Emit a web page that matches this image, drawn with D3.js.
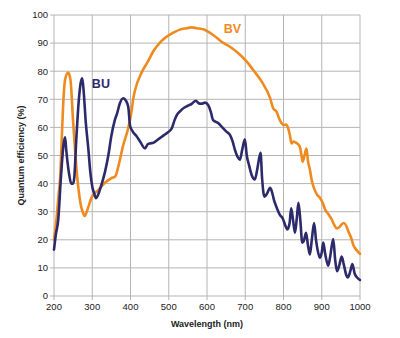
<!DOCTYPE html>
<html>
<head>
<meta charset="utf-8">
<script src="https://cdn.jsdelivr.net/npm/d3@7"></script>
<style>
  html, body { margin: 0; padding: 0; background: #fff; }
  svg { display: block; font-family: "Liberation Sans", Arial, Helvetica, sans-serif; }
</style>
</head>
<body>
<svg id="chart" width="400" height="338"></svg>
<script>
// ---- data ----
const xTicks = [200, 300, 400, 500, 600, 700, 800, 900, 1000];
const yTicks = [0, 10, 20, 30, 40, 50, 60, 70, 80, 90, 100];

const buWavelength = [200,205,211,218,225,229,232,235,240,245,250,253,258,265,270,274,278,283,290,295,300,305,310,318,325,333,342,350,359,365,372,381,388,394,399,406,415,425,438,445,451,460,470,480,490,500,508,515,521,530,540,550,560,571,578,585,595,603,610,616,630,640,650,660,667,673,680,686,692,699,704,710,717,725,731,735,740,744,750,757,765,770,775,782,790,798,805,810,816,820,825,830,835,839,844,849,853,859,864,869,874,880,885,889,895,900,904,909,917,922,930,935,940,946,952,958,964,968,975,980,986,993,1000];
const buQE = [16.5,22,27,42,54,56.5,52,48,43,40,40,42,55,70,76,77.5,72,62,52,44,39,36.5,34.8,37,40,44,50,57,62.6,65,68.5,70.4,69.5,67.4,60.5,58.5,57,55,52.5,54,54.3,54.5,55.5,56.5,57.5,58.5,59.7,62.5,64.4,65.8,67,67.7,68.4,69.5,68.6,68.4,68.8,68,65.5,62.6,61.5,60,58.6,57.3,55,52,49.5,48.5,52,55.8,50,46.5,43,41.5,44.8,48,51,42,35.3,36.5,38.5,37,34.2,31.5,29,27.6,25,23.7,26,31.2,27,22.5,28,33.2,27,19,19.5,22.5,18,14.8,20,26,20,16.5,13.6,15.5,19,15,10.8,14,20.3,13,8.8,11,14,11,7.5,6.6,9,11.4,8,6.5,5.7];

const bvWavelength = [200,207,212,216,220,224,229,237,243,250,259,268,277,280,290,298,316,333,351,360,368,381,394,403,407,412,429,446,460,477,486,503,516,529,547,560,573,590,616,638,660,682,704,721,743,765,773,782,789,795,800,806,812,817,821,826,832,838,843,847,850,855,860,864,869,874,880,888,895,903,908,917,925,932,939,946,952,958,964,970,976,983,990,1000];
const bvQE = [20,28,36,42,55,68,77,79.5,77,62,45,34,29.2,28.5,31.8,35,37.7,40.3,42,42.5,46,53.7,59.7,66,70,73.3,79.5,83.6,87.2,90.2,91.4,93,94,94.8,95.3,95.6,95.3,94.9,92.9,90.5,88.7,86.4,83.4,80.4,76.3,70.4,66.8,65.5,63,61.5,60.8,61,59.8,57,54.3,55,54.6,54,53,50,47.8,50,52.5,48,45,41,38.3,36,35,33,31,29.2,27.5,25.5,24,24.5,25.5,26,25,22.8,21,18,16.5,15];

const seriesNames = ["BU", "BV"];
const seriesColors = ["#2c2a6b", "#ef8a1f"];

// ---- layout ----
const svg = d3.select("#chart");
const x = d3.scaleLinear().domain([200, 1000]).range([54, 360]);
const y = d3.scaleLinear().domain([0, 100]).range([296, 15]);

// grid
svg.append("g").selectAll("line").data(xTicks).join("line")
  .attr("x1", d => x(d)).attr("x2", d => x(d))
  .attr("y1", y(100)).attr("y2", y(0) + 4)
  .attr("stroke", "#b4b4b4").attr("stroke-width", 1);
svg.append("g").selectAll("line").data(yTicks).join("line")
  .attr("x1", x(200) - 4).attr("x2", x(1000))
  .attr("y1", d => y(d)).attr("y2", d => y(d))
  .attr("stroke", "#b4b4b4").attr("stroke-width", 1);

// tick labels
svg.append("g").selectAll("text").data(yTicks).join("text")
  .attr("x", x(200) - 6).attr("y", d => y(d))
  .attr("dy", "0.35em").attr("text-anchor", "end")
  .attr("font-size", 9.5).attr("fill", "#222")
  .text(d => d);
svg.append("g").selectAll("text").data(xTicks).join("text")
  .attr("x", d => x(d)).attr("y", y(0) + 11)
  .attr("dy", "0.35em").attr("text-anchor", "middle")
  .attr("font-size", 9.5).attr("fill", "#222")
  .text(d => d);

// axis titles
svg.append("text")
  .attr("x", (x(200) + x(1000)) / 2).attr("y", 324).attr("dy", "0.35em")
  .attr("text-anchor", "middle").attr("font-size", 9).attr("font-weight", "bold")
  .attr("fill", "#222").text("Wavelength (nm)");
svg.append("text")
  .attr("transform", `translate(21,${(y(0) + y(100)) / 2}) rotate(-90)`)
  .attr("dy", "0.35em")
  .attr("text-anchor", "middle").attr("font-size", 9).attr("font-weight", "bold")
  .attr("fill", "#222").text("Quantum efficiency (%)");

// curves
const line = d3.line().x(d => x(d[0])).y(d => y(d[1])).curve(d3.curveMonotoneX);
const buData = d3.zip(buWavelength, buQE);
const bvData = d3.zip(bvWavelength, bvQE);

svg.append("path").datum(bvData)
  .attr("d", line).attr("fill", "none")
  .attr("stroke", seriesColors[1]).attr("stroke-width", 2.6)
  .attr("stroke-linejoin", "round").attr("stroke-linecap", "round");
svg.append("path").datum(buData)
  .attr("d", line).attr("fill", "none")
  .attr("stroke", seriesColors[0]).attr("stroke-width", 2.6)
  .attr("stroke-linejoin", "round").attr("stroke-linecap", "round");

// series labels
svg.append("text").attr("x", x(299)).attr("y", y(74))
  .attr("font-size", 12.5).attr("font-weight", "bold").attr("fill", seriesColors[0])
  .text(seriesNames[0]);
svg.append("text").attr("x", x(644)).attr("y", y(93.6))
  .attr("font-size", 12.5).attr("font-weight", "bold").attr("fill", seriesColors[1])
  .text(seriesNames[1]);
</script>
</body>
</html>
